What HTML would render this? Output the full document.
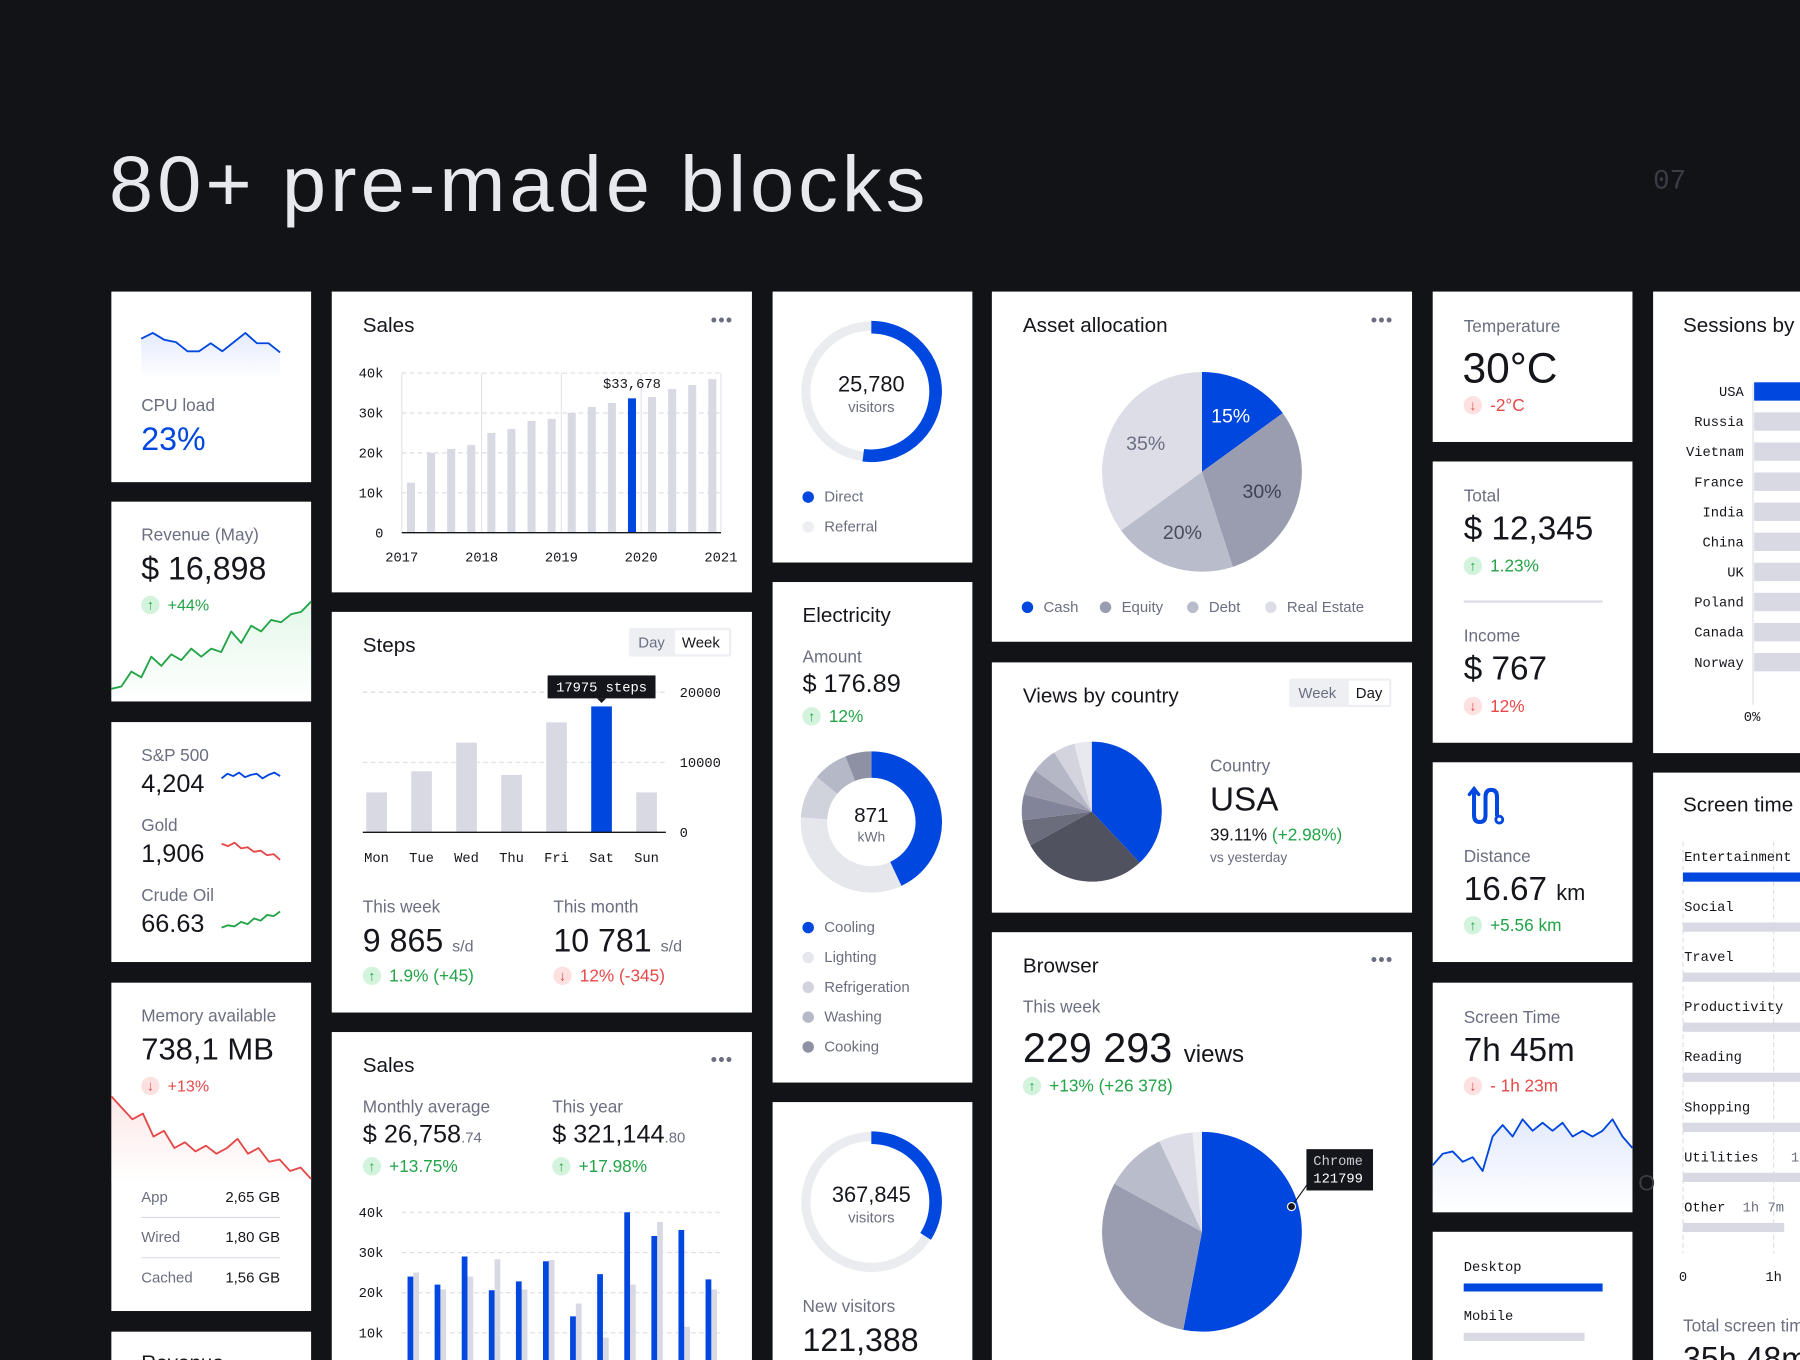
<!DOCTYPE html>
<html><head><meta charset="utf-8">
<style>
html,body{margin:0;padding:0;background:#121317;overflow:hidden;width:1800px;height:1360px}
#wrap{position:absolute;left:0;top:0;width:1568px;height:1185px;overflow:hidden;transform:scale(1.148);transform-origin:0 0;font-family:"Liberation Sans",sans-serif;color:#15161c}
.card{position:absolute;background:#fff}
.t{position:absolute;white-space:nowrap;line-height:1}
.lbl{color:#6b6e80;font-size:15px}
.h{font-size:18px;color:#15161c}
.m{font-family:"Liberation Mono",monospace;font-size:12px;color:#15161c}
.g{color:#22a447}.r{color:#e54848}.b{color:#0047e0}
.bd{position:absolute;width:16px;height:16px;border-radius:50%;font-size:12px;line-height:16px;text-align:center;font-weight:bold}
.bu{background:#d3f3dc;color:#22a447}.bdn{background:#fde0e0;color:#e54848}
.dots{position:absolute;font-size:16px;letter-spacing:1px;color:#6b6e80;line-height:1}
.dot{position:absolute;width:10px;height:10px;border-radius:50%}
svg{position:absolute;left:0;top:0}
</style></head><body>
<div id="wrap">
<div class="t" style="left:95px;top:126px;font-size:69px;color:#e8e9ee;letter-spacing:3.6px">80+ pre-made blocks</div>
<div class="t" style="left:1440px;top:147px;font-size:24px;color:#3a3c46;font-family:'Liberation Mono',monospace">07</div>

<!-- column 1 -->
<div class="card" style="left:97px;top:254px;width:174px;height:166px"></div>
<div class="card" style="left:97px;top:437px;width:174px;height:174px"></div>
<div class="card" style="left:97px;top:629px;width:174px;height:209px"></div>
<div class="card" style="left:97px;top:856px;width:174px;height:286px"></div>
<div class="card" style="left:97px;top:1160px;width:174px;height:60px"></div>
<!-- column 2 -->
<div class="card" style="left:289px;top:254px;width:366px;height:262px"></div>
<div class="card" style="left:289px;top:533px;width:366px;height:349px"></div>
<div class="card" style="left:289px;top:899px;width:366px;height:320px"></div>
<!-- column 3 -->
<div class="card" style="left:673px;top:254px;width:174px;height:236px"></div>
<div class="card" style="left:673px;top:507px;width:174px;height:436px"></div>
<div class="card" style="left:673px;top:960px;width:174px;height:260px"></div>
<!-- column 4 -->
<div class="card" style="left:864px;top:254px;width:366px;height:305px"></div>
<div class="card" style="left:864px;top:577px;width:366px;height:218px"></div>
<div class="card" style="left:864px;top:812px;width:366px;height:410px"></div>
<!-- column 5 -->
<div class="card" style="left:1248px;top:254px;width:174px;height:131px"></div>
<div class="card" style="left:1248px;top:402px;width:174px;height:245px"></div>
<div class="card" style="left:1248px;top:664px;width:174px;height:174px"></div>
<div class="card" style="left:1248px;top:856px;width:174px;height:200px"></div>
<div class="card" style="left:1248px;top:1073px;width:174px;height:150px"></div>
<!-- column 6 -->
<div class="card" style="left:1440px;top:254px;width:140px;height:402px"></div>
<div class="card" style="left:1440px;top:673px;width:140px;height:550px"></div>

<svg id="chart" width="1568" height="1185"></svg>

<!-- col1 text -->
<div class="t lbl" style="left:123px;top:346px">CPU load</div>
<div class="t b" style="left:123px;top:369px;font-size:28px">23%</div>
<div class="t lbl" style="left:123px;top:459px">Revenue (May)</div>
<div class="t" style="left:123px;top:482px;font-size:28px">$ 16,898</div>
<div class="bd bu" style="left:123px;top:519px">↑</div>
<div class="t g" style="left:146px;top:520px;font-size:14px">+44%</div>
<div class="t lbl" style="left:123px;top:651px">S&amp;P 500</div>
<div class="t" style="left:123px;top:672px;font-size:22px">4,204</div>
<div class="t lbl" style="left:123px;top:712px">Gold</div>
<div class="t" style="left:123px;top:733px;font-size:22px">1,906</div>
<div class="t lbl" style="left:123px;top:773px">Crude Oil</div>
<div class="t" style="left:123px;top:794px;font-size:22px">66.63</div>
<div class="t lbl" style="left:123px;top:878px">Memory available</div>
<div class="t" style="left:123px;top:901px;font-size:27px">738,1 MB</div>
<div class="bd bdn" style="left:123px;top:938px">↓</div>
<div class="t r" style="left:146px;top:939px;font-size:14px">+13%</div>
<div class="t lbl" style="left:123px;top:1036px;font-size:13px">App</div>
<div class="t" style="left:190px;width:54px;text-align:right;top:1036px;font-size:13px">2,65 GB</div>
<div style="position:absolute;left:123px;top:1060px;width:121px;height:1px;background:#dcdde6"></div>
<div class="t lbl" style="left:123px;top:1071px;font-size:13px">Wired</div>
<div class="t" style="left:190px;width:54px;text-align:right;top:1071px;font-size:13px">1,80 GB</div>
<div style="position:absolute;left:123px;top:1095px;width:121px;height:1px;background:#dcdde6"></div>
<div class="t lbl" style="left:123px;top:1106px;font-size:13px">Cached</div>
<div class="t" style="left:190px;width:54px;text-align:right;top:1106px;font-size:13px">1,56 GB</div>
<div class="t h" style="left:123px;top:1178px">Revenue</div>

<!-- col2 text -->
<div class="t h" style="left:316px;top:274px">Sales</div>
<div class="dots" style="left:619px;top:272px">•••</div>
<div class="t h" style="left:316px;top:553px">Steps</div>
<div style="position:absolute;left:548px;top:547px;width:89px;height:25px;background:#eeeff3;border-radius:2px"></div>
<div class="t lbl" style="left:556px;top:553px;font-size:13px">Day</div>
<div style="position:absolute;left:588px;top:549px;width:47px;height:21px;background:#fff"></div>
<div class="t" style="left:594px;top:553px;font-size:13px">Week</div>
<div class="t lbl" style="left:316px;top:783px">This week</div>
<div class="t" style="left:316px;top:806px;font-size:28px">9 865 <span style="font-size:14px;color:#6b6e80">s/d</span></div>
<div class="bd bu" style="left:316px;top:842px">↑</div>
<div class="t g" style="left:339px;top:843px;font-size:15px">1.9% (+45)</div>
<div class="t lbl" style="left:482px;top:783px">This month</div>
<div class="t" style="left:482px;top:806px;font-size:28px">10 781 <span style="font-size:14px;color:#6b6e80">s/d</span></div>
<div class="bd bdn" style="left:482px;top:842px">↓</div>
<div class="t r" style="left:505px;top:843px;font-size:15px">12% (-345)</div>
<div class="t h" style="left:316px;top:919px">Sales</div>
<div class="dots" style="left:619px;top:916px">•••</div>
<div class="t lbl" style="left:316px;top:957px">Monthly average</div>
<div class="t" style="left:316px;top:977px;font-size:22px">$ 26,758<span style="font-size:13px;color:#6b6e80">.74</span></div>
<div class="bd bu" style="left:316px;top:1008px">↑</div>
<div class="t g" style="left:339px;top:1009px;font-size:15px">+13.75%</div>
<div class="t lbl" style="left:481px;top:957px">This year</div>
<div class="t" style="left:481px;top:977px;font-size:22px">$ 321,144<span style="font-size:13px;color:#6b6e80">.80</span></div>
<div class="bd bu" style="left:481px;top:1008px">↑</div>
<div class="t g" style="left:504px;top:1009px;font-size:15px">+17.98%</div>

<!-- col3 text -->
<div class="t" style="left:709px;width:100px;text-align:center;top:326px;font-size:19px">25,780</div>
<div class="t lbl" style="left:709px;width:100px;text-align:center;top:348px;font-size:13px">visitors</div>
<div class="dot" style="left:699px;top:428px;background:#0047e0"></div>
<div class="t lbl" style="left:718px;top:426px;font-size:13px">Direct</div>
<div class="dot" style="left:699px;top:454px;background:#eceef2"></div>
<div class="t lbl" style="left:718px;top:452px;font-size:13px">Referral</div>
<div class="t h" style="left:699px;top:527px">Electricity</div>
<div class="t lbl" style="left:699px;top:565px">Amount</div>
<div class="t" style="left:699px;top:585px;font-size:22px">$ 176.89</div>
<div class="bd bu" style="left:699px;top:616px">↑</div>
<div class="t g" style="left:722px;top:617px;font-size:15px">12%</div>
<div class="t" style="left:709px;width:100px;text-align:center;top:701px;font-size:18px">871</div>
<div class="t lbl" style="left:709px;width:100px;text-align:center;top:723px;font-size:12px">kWh</div>
<div class="dot" style="left:699px;top:803px;background:#0047e0"></div>
<div class="t lbl" style="left:718px;top:801px;font-size:13px">Cooling</div>
<div class="dot" style="left:699px;top:829px;background:#e6e7ed"></div>
<div class="t lbl" style="left:718px;top:827px;font-size:13px">Lighting</div>
<div class="dot" style="left:699px;top:855px;background:#d0d2dc"></div>
<div class="t lbl" style="left:718px;top:853px;font-size:13px">Refrigeration</div>
<div class="dot" style="left:699px;top:881px;background:#b5b8c6"></div>
<div class="t lbl" style="left:718px;top:879px;font-size:13px">Washing</div>
<div class="dot" style="left:699px;top:907px;background:#8e91a3"></div>
<div class="t lbl" style="left:718px;top:905px;font-size:13px">Cooking</div>
<div class="t" style="left:709px;width:100px;text-align:center;top:1032px;font-size:19px">367,845</div>
<div class="t lbl" style="left:709px;width:100px;text-align:center;top:1054px;font-size:13px">visitors</div>
<div class="t lbl" style="left:699px;top:1131px">New visitors</div>
<div class="t" style="left:699px;top:1154px;font-size:28px">121,388</div>

<!-- col4 text -->
<div class="t h" style="left:891px;top:274px">Asset allocation</div>
<div class="dots" style="left:1194px;top:272px">•••</div>
<div class="dot" style="left:890px;top:524px;background:#0047e0"></div>
<div class="t lbl" style="left:909px;top:522px;font-size:13px">Cash</div>
<div class="dot" style="left:958px;top:524px;background:#9a9db0"></div>
<div class="t lbl" style="left:977px;top:522px;font-size:13px">Equity</div>
<div class="dot" style="left:1034px;top:524px;background:#b9bccb"></div>
<div class="t lbl" style="left:1053px;top:522px;font-size:13px">Debt</div>
<div class="dot" style="left:1102px;top:524px;background:#dcdde6"></div>
<div class="t lbl" style="left:1121px;top:522px;font-size:13px">Real Estate</div>
<div class="t h" style="left:891px;top:597px">Views by country</div>
<div style="position:absolute;left:1123px;top:591px;width:89px;height:25px;background:#eeeff3;border-radius:2px"></div>
<div style="position:absolute;left:1175px;top:593px;width:35px;height:21px;background:#fff"></div>
<div class="t lbl" style="left:1131px;top:597px;font-size:13px">Week</div>
<div class="t" style="left:1181px;top:597px;font-size:13px">Day</div>
<div class="t lbl" style="left:1054px;top:660px">Country</div>
<div class="t" style="left:1054px;top:683px;font-size:29px">USA</div>
<div class="t" style="left:1054px;top:720px;font-size:15px">39.11% <span class="g">(+2.98%)</span></div>
<div class="t lbl" style="left:1054px;top:741px;font-size:12px">vs yesterday</div>
<div class="t h" style="left:891px;top:832px">Browser</div>
<div class="dots" style="left:1194px;top:829px">•••</div>
<div class="t lbl" style="left:891px;top:870px">This week</div>
<div class="t" style="left:891px;top:895px;font-size:36px">229 293 <span style="font-size:21px">views</span></div>
<div class="bd bu" style="left:891px;top:938px">↑</div>
<div class="t g" style="left:914px;top:939px;font-size:15px">+13% (+26 378)</div>
<div style="position:absolute;left:1138px;top:1001px;width:58px;height:36px;background:#15161c"></div>
<div class="t m" style="left:1144px;top:1006px;color:#c9cad3">Chrome</div>
<div class="t m" style="left:1144px;top:1021px;color:#fff">121799</div>

<!-- col5 text -->
<div class="t lbl" style="left:1275px;top:277px">Temperature</div>
<div class="t" style="left:1274px;top:302px;font-size:37px">30°C</div>
<div class="bd bdn" style="left:1275px;top:345px">↓</div>
<div class="t r" style="left:1298px;top:346px;font-size:15px">-2°C</div>
<div class="t lbl" style="left:1275px;top:425px">Total</div>
<div class="t" style="left:1275px;top:447px;font-size:29px">$ 12,345</div>
<div class="bd bu" style="left:1275px;top:485px">↑</div>
<div class="t g" style="left:1298px;top:486px;font-size:15px">1.23%</div>
<div style="position:absolute;left:1275px;top:523px;width:121px;height:2px;background:#dcdde6"></div>
<div class="t lbl" style="left:1275px;top:547px">Income</div>
<div class="t" style="left:1275px;top:569px;font-size:29px">$ 767</div>
<div class="bd bdn" style="left:1275px;top:607px">↓</div>
<div class="t r" style="left:1298px;top:608px;font-size:15px">12%</div>
<svg style="left:1278px;top:684px" width="36" height="36" viewBox="0 0 36 36"><path d="M6 4 L6 26 Q6 32 11 32 Q16 32 16 26 L16 10 Q16 4 21 4 Q26 4 26 10 L26 26" fill="none" stroke="#0047e0" stroke-width="3.5" stroke-linecap="round"/><path d="M2 8 L6 3 L10 8" fill="none" stroke="#0047e0" stroke-width="3" stroke-linecap="round"/><circle cx="28" cy="30" r="3" fill="none" stroke="#0047e0" stroke-width="2.5"/></svg>
<div class="t lbl" style="left:1275px;top:739px">Distance</div>
<div class="t" style="left:1275px;top:761px;font-size:29px">16.67 <span style="font-size:19px">km</span></div>
<div class="bd bu" style="left:1275px;top:798px">↑</div>
<div class="t g" style="left:1298px;top:799px;font-size:15px">+5.56 km</div>
<div class="t lbl" style="left:1275px;top:879px">Screen Time</div>
<div class="t" style="left:1275px;top:901px;font-size:29px">7h 45m</div>
<div class="bd bdn" style="left:1275px;top:938px">↓</div>
<div class="t r" style="left:1298px;top:939px;font-size:15px">- 1h 23m</div>
<div class="t m" style="left:1275px;top:1098px">Desktop</div>
<div class="t m" style="left:1275px;top:1141px">Mobile</div>

<!-- col6 text -->
<div class="t h" style="left:1466px;top:274px">Sessions by country</div>
<div class="t m" style="left:1519px;top:619px">0%</div>
<div class="t h" style="left:1466px;top:692px">Screen time by category</div>
<div class="t lbl" style="left:1466px;top:1148px">Total screen time</div>
<div class="t" style="left:1466px;top:1170px;font-size:28px">35h 48m</div>
<div class="t" style="left:1427px;top:1022px;font-size:19px;color:#3a3c46">O</div>
</div>

<script>
// ---- data ----
const salesYears=['2017','2018','2019','2020','2021'];
const salesTicks=['0','10k','20k','30k','40k'];
const salesValues=[12.5,20,21,22,25,26,28,28.5,30,31.5,32.5,33.678,34,36,37,38.5];
const salesHighlight=11;
const stepDays=['Mon','Tue','Wed','Thu','Fri','Sat','Sun'];
const stepValues=[5700,8700,12800,8200,15700,17975,5700];
const stepTicks=['0','10000','20000'];
const monthlyTicks=['10k','20k','30k','40k'];
const monthlyThisYear=[24,22,29,20.6,22.8,27.8,14.1,24.6,40,34.1,35.6,23.3];
const monthlyLastYear=[25,20.8,24,28.3,20.8,28.1,17.3,8.8,22,37.6,11.5,20.8];
const visitorShares=[52,48];
const electricityShares=[43,33,10,8,6];
const newVisitorShares=[34,66];
const assetShares=[15,30,20,35];
const assetLabels=['15%','30%','20%','35%'];
const countryShares=[38,29,6,6,6,6,5,4];
const browserShares=[53,30,10,5.5,1.5];
const sessionCountries=['USA','Russia','Vietnam','France','India','China','UK','Poland','Canada','Norway'];
const sessionValues=[60,45,44,43,42,41,40,39,38,37];
const screenCats=['Entertainment','Social','Travel','Productivity','Reading','Shopping','Utilities','Other'];
const screenMinutes=[600,300,250,200,180,150,100,67];
const deviceShares=[100,87];
const cpuSeries=[295,290,296,298,306,306,299,306,298,290,299,299,307];
const revenueSeries=[600,598,585,590,572,580,570,575,565,572,565,568,550,560,545,550,540,542,535,533,524];
const spSeries=[678,674,676,673,677,675,674,678,675,673,676];
const goldSeries=[735,737,734,739,738,742,741,745,744,749];
const crudeSeries=[808,806,807,803,805,800,802,797,798,794];
const memorySeries=[955,965,975,970,990,985,1000,995,1003,998,1005,1000,992,1005,1000,1012,1010,1020,1017,1027];
const screenSeries=[1015,1005,1003,1012,1008,1020,990,980,990,975,985,978,985,978,990,985,990,985,975,990,1000];

const S=document.getElementById('chart');
const NS='http://www.w3.org/2000/svg';
function mk(tag,at){const e=document.createElementNS(NS,tag);for(const k in at)e.setAttribute(k,at[k]);S.appendChild(e);return e;}
function txt(x,y,s,at){const e=mk('text',Object.assign({x:x,y:y,'font-family':'Liberation Mono, monospace','font-size':12,fill:'#15161c'},at||{}));e.textContent=s;return e;}
function pt(cx,cy,r,a){const t=(a-90)*Math.PI/180;return [cx+r*Math.cos(t),cy+r*Math.sin(t)];}
function slice(cx,cy,r,a0,a1,fill){const p0=pt(cx,cy,r,a0),p1=pt(cx,cy,r,a1);const lg=(a1-a0)>180?1:0;
 return mk('path',{d:`M${cx},${cy}L${p0[0]},${p0[1]}A${r},${r} 0 ${lg} 1 ${p1[0]},${p1[1]}Z`,fill:fill});}
function arc(cx,cy,r,a0,a1,col,w){const p0=pt(cx,cy,r,a0),p1=pt(cx,cy,r,Math.min(a1,a0+359.99));const lg=(a1-a0)>180?1:0;
 return mk('path',{d:`M${p0[0]},${p0[1]}A${r},${r} 0 ${lg} 1 ${p1[0]},${p1[1]}`,fill:'none',stroke:col,'stroke-width':w});}
function line(series,x0,x1,col,fillBottom,fillCol){const n=series.length;const xs=i=>x0+i*(x1-x0)/(n-1);
 let d=series.map((y,i)=>(i?'L':'M')+xs(i)+','+y).join('');
 if(fillBottom){const a=mk('path',{d:d+`L${x1},${fillBottom}L${x0},${fillBottom}Z`,fill:fillCol,opacity:0.5});}
 const l=mk('path',{d:d,fill:'none',stroke:col,'stroke-width':1.6,'stroke-linejoin':'round'});return l;}

const defs=mk('defs',{});
defs.innerHTML='<linearGradient id="gb" x1="0" y1="0" x2="0" y2="1"><stop offset="0" stop-color="#c9d6fb"/><stop offset="1" stop-color="#fff"/></linearGradient><linearGradient id="gg" x1="0" y1="0" x2="0" y2="1"><stop offset="0" stop-color="#c8efd3"/><stop offset="1" stop-color="#fff"/></linearGradient><linearGradient id="gr" x1="0" y1="0" x2="0" y2="1"><stop offset="0" stop-color="#fcd0d0"/><stop offset="1" stop-color="#fff"/></linearGradient>';

let e;
e=line(cpuSeries,123,244,'#0047e0',330,'url(#gb)');


e=line(revenueSeries,97,271,'#22a447',611,'url(#gg)');


e=line(spSeries,193,244,'#0047e0');


e=line(goldSeries,193,244,'#e54848');


e=line(crudeSeries,193,244,'#22a447');


e=line(memorySeries,97,271,'#e54848',1030,'url(#gr)');


e=line(screenSeries,1248,1422,'#0047e0',1056,'url(#gb)');



// Sales chart
const sY=v=>464-v/40*139, sX=i=>358+i*17.5;
salesTicks.forEach((t,i)=>{const y=sY(i*10);
 if(i>0){e=mk('line',{x1:350,x2:628,y1:y,y2:y,stroke:'#dcdde6','stroke-dasharray':'4 3'});}
 e=txt(334,y+4,t,{'text-anchor':'end'});});
salesYears.forEach((t,i)=>{const x=350+i*69.5;
 e=mk('line',{x1:x,x2:x,y1:sY(40),y2:464,stroke:'#e3e4ea'});
 e=txt(x,489,t,{'text-anchor':'middle'});});
salesValues.forEach((v,i)=>{e=mk('rect',{x:sX(i)-3.5,y:sY(v),width:7,height:464-sY(v),fill:i===salesHighlight?'#0047e0':'#d8d9e3'});
 });
e=txt(sX(salesHighlight),sY(salesValues[salesHighlight])-9,'$'+(salesValues[salesHighlight]*1000).toLocaleString('en-US'),{'text-anchor':'middle'});


e=mk('line',{x1:350,x2:628,y1:464,y2:464,stroke:'#15161c','stroke-width':1.2});



// Steps chart
const stY=v=>725-v/20000*122, stX=i=>328+i*39.2;
stepTicks.forEach((t,i)=>{const y=stY(i*10000);
 if(i>0){e=mk('line',{x1:316,x2:580,y1:y,y2:y,stroke:'#dcdde6','stroke-dasharray':'4 3'});}
 e=txt(592,y+4,t);});
let maxI=stepValues.indexOf(Math.max(...stepValues));
stepValues.forEach((v,i)=>{e=mk('rect',{x:stX(i)-9,y:stY(v),width:18,height:725-stY(v),fill:i===maxI?'#0047e0':'#d8d9e3'});
 
 e=txt(stX(i),751,stepDays[i],{'text-anchor':'middle'});});
e=mk('line',{x1:316,x2:580,y1:725,y2:725,stroke:'#15161c','stroke-width':1.2});


{const tx=stX(maxI),ty=stY(stepValues[maxI]);
e=mk('rect',{x:tx-47,y:ty-27,width:94,height:20,fill:'#15161c'});


e=mk('path',{d:`M${tx-4},${ty-7}L${tx+4},${ty-7}L${tx},${ty-3}Z`,fill:'#15161c'});


e=txt(tx,ty-13,stepValues[maxI]+' steps',{'text-anchor':'middle',fill:'#fff'});

}

// Monthly sales chart
const mY=v=>1196-v/40*140, mX=i=>357+i*23.6;
monthlyTicks.forEach((t,i)=>{const y=mY((i+1)*10);
 e=mk('line',{x1:350,x2:628,y1:y,y2:y,stroke:'#dcdde6','stroke-dasharray':'4 3'});
 e=txt(334,y+4,t,{'text-anchor':'end'});});
monthlyThisYear.forEach((v,i)=>{
 e=mk('rect',{x:mX(i)+3,y:mY(monthlyLastYear[i]),width:5,height:1196-mY(monthlyLastYear[i]),fill:'#d8d9e3'});
 e=mk('rect',{x:mX(i)-2,y:mY(v),width:5,height:1196-mY(v),fill:'#0047e0'});});

// donuts
function donut(cx,cy,r,w,shares,cols,name){let a=0;const tot=shares.reduce((s,v)=>s+v,0);
 shares.forEach((v,i)=>{const a1=a+v/tot*360;const el=arc(cx,cy,r,a,a1,cols[i],w[i]);a=a1;});}
e=mk('circle',{cx:759,cy:341,r:57,fill:'none',stroke:'#ebecf0','stroke-width':8});


donut(759,341,56,[11,0],visitorShares,['#0047e0','none'],'visitors-segment');
donut(759,716,50,[23,23,23,23,23],electricityShares,['#0047e0','#e6e7ed','#d0d2dc','#b5b8c6','#8e91a3'],'electricity-segment');
e=mk('circle',{cx:759,cy:1047,r:57,fill:'none',stroke:'#ebecf0','stroke-width':8});


donut(759,1047,56,[11,0],newVisitorShares,['#0047e0','none'],'new-visitors-segment');

// pies
function pie(cx,cy,r,shares,cols,name){let a=0;const tot=shares.reduce((s,v)=>s+v,0);const mids=[];
 shares.forEach((v,i)=>{const a1=a+v/tot*360;const el=slice(cx,cy,r,a,a1,cols[i]);mids.push((a+a1)/2);a=a1;});return mids;}
const am=pie(1047,411,87,assetShares,['#0047e0','#9a9db0','#b9bccb','#dcdde6'],'asset-slice');
const acol=['#fff','#3f4152','#4a4c5c','#6b6e80'];
am.forEach((m,i)=>{const p=pt(1047,411,55,m);e=txt(p[0],p[1]+6,assetLabels[i],{'text-anchor':'middle','font-family':'Liberation Sans, sans-serif','font-size':17,fill:acol[i]});
 });
pie(951,707,61,countryShares,['#0047e0','#50535f','#6b6d7d','#82849a','#9a9cae','#b5b7c6','#d3d4de','#e8e9ef'],'country-slice');
pie(1047,1073,87,browserShares,['#0047e0','#9a9db0','#b9bccb','#dcdde6','#eeeff3'],'browser-slice');
e=mk('line',{x1:1125,y1:1051,x2:1140,y2:1030,stroke:'#15161c','stroke-width':1});


e=mk('circle',{cx:1125,cy:1051,r:3.5,fill:'#15161c',stroke:'#fff','stroke-width':1});



// sessions bars
e=mk('line',{x1:1527,x2:1527,y1:334,y2:614,stroke:'#dcdde6'});


sessionCountries.forEach((c,i)=>{const y=341+i*26.2;
 e=mk('rect',{x:1528,y:y-8,width:sessionValues[i]*5,height:16,fill:i===0?'#0047e0':'#d8d9e3'});
 e=txt(1519,y+4,c,{'text-anchor':'end'});});

// screen time categories
const scX=m=>1466+m/60*79;
[0,60].forEach(m=>{e=mk('line',{x1:scX(m),x2:scX(m),y1:733,y2:1092,stroke:'#dcdde6','stroke-dasharray':'4 3'});
 e=txt(scX(m),1116,m===0?'0':'1h',{'text-anchor':'middle'});});
screenCats.forEach((c,i)=>{const y=746+i*43.6;
 e=txt(1467,y+4,c);
 e=mk('rect',{x:1466,y:y+14,width:scX(screenMinutes[i])-1466,height:8,fill:i===0?'#0047e0':'#d8d9e3'});
 if(screenMinutes[i]<120){const m=screenMinutes[i];e=txt(i===7?1518:1560,y+4,Math.floor(m/60)+'h '+(m%60)+'m',{fill:'#6b6e80'});}});

// devices
deviceShares.forEach((v,i)=>{e=mk('rect',{x:1275,y:1118+i*43,width:v/100*121,height:7,fill:i===0?'#0047e0':'#d8d9e3'});
 });
</script>
</body></html>
